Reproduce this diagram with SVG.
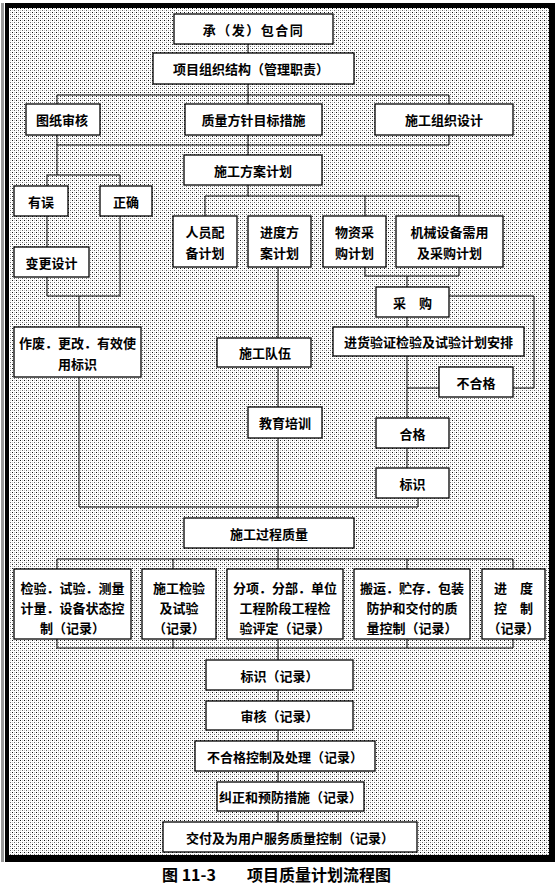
<svg xmlns="http://www.w3.org/2000/svg" width="555" height="894" viewBox="0 0 555 894">
<defs>
<pattern id="dots" width="4" height="4" patternUnits="userSpaceOnUse">
<rect width="4" height="4" fill="#fff"/>
<rect x="0" y="0" width="1" height="1" fill="#111"/>
<rect x="2" y="2" width="1" height="1" fill="#666"/>
<rect x="2" y="0" width="1" height="1" fill="#c8c8c8"/>
<rect x="0" y="2" width="1" height="1" fill="#c8c8c8"/>
</pattern>
</defs>
<style>
.box{fill:#fff;stroke:#000;stroke-width:1.3}
.t{font-family:"Noto Sans CJK SC","Noto Sans CJK JP",sans-serif;font-size:13px;font-weight:bold;fill:#000;text-anchor:middle;dominant-baseline:central}
.c{fill:none;stroke:#000;stroke-width:1}
.cap{font-family:"Noto Sans CJK SC","Noto Sans CJK JP",sans-serif;font-size:16px;font-weight:bold;fill:#000}
</style>
<rect x="0" y="0" width="555" height="894" fill="#fff"/>
<rect x="1" y="3" width="3" height="859" fill="#999"/>
<rect x="5" y="3" width="550" height="859" fill="#000"/>
<rect x="9" y="8" width="540" height="847" fill="url(#dots)"/>

<g id="connectors">
<path class="c" d="M248,44 V196"/>
<path class="c" d="M57,95 H449 V145 H57 Z"/>
<path class="c" d="M57,145 V175"/>
<path class="c" d="M47,175 H120 V296 H47 Z"/>
<path class="c" d="M79,296 V507 H418 V498"/>
<path class="c" d="M205,216 V196 H459 V276 H365 V196"/>
<path class="c" d="M407,276 V287 M407,317 V418 M407,448 V468"/>
<path class="c" d="M449,296 H534 V388 H513 M439,388 H407"/>
<path class="c" d="M278,267 V518"/>
<path class="c" d="M278,548 V822"/>
<path class="c" d="M57,559 H513 V648 H57 Z"/>
<path class="c" d="M173,559 V648 M407,559 V648"/>
</g>

<g id="n1"><rect class="box" x="174" y="14" width="159" height="30"/><text class="t" x="253.5" y="29" letter-spacing="1.5">承（发）包合同</text></g>
<g id="n2"><rect class="box" x="153" y="53" width="201" height="31"/><text class="t" x="251" y="68.5">项目组织结构（管理职责）</text></g>
<g id="n3"><rect class="box" x="26" y="104" width="74" height="31"/><text class="t" x="62" y="119.5">图纸审核</text></g>
<g id="n4"><rect class="box" x="185" y="104" width="137" height="31"/><text class="t" x="253.5" y="119.5">质量方针目标措施</text></g>
<g id="n5"><rect class="box" x="375" y="104" width="138" height="31"/><text class="t" x="444" y="119.5">施工组织设计</text></g>
<g id="n6"><rect class="box" x="184" y="155" width="138" height="30"/><text class="t" x="253" y="170">施工方案计划</text></g>
<g id="n7"><rect class="box" x="14" y="186" width="54" height="30"/><text class="t" x="41" y="201">有误</text></g>
<g id="n8"><rect class="box" x="100" y="186" width="52" height="30"/><text class="t" x="126" y="201">正确</text></g>
<g id="n9"><rect class="box" x="14" y="247" width="75" height="30"/><text class="t" x="51.5" y="262">变更设计</text></g>
<g id="n10"><rect class="box" x="173" y="216" width="64" height="51"/><text class="t" x="205" y="231">人员配</text><text class="t" x="205" y="252">备计划</text></g>
<g id="n11"><rect class="box" x="248" y="216" width="63" height="51"/><text class="t" x="279.5" y="231">进度方</text><text class="t" x="279.5" y="252">案计划</text></g>
<g id="n12"><rect class="box" x="323" y="216" width="63" height="51"/><text class="t" x="354.5" y="231">物资采</text><text class="t" x="354.5" y="252">购计划</text></g>
<g id="n13"><rect class="box" x="396" y="216" width="107" height="51"/><text class="t" x="449.5" y="231">机械设备需用</text><text class="t" x="449.5" y="252">及采购计划</text></g>
<g id="n14"><rect class="box" x="14" y="327" width="127" height="50"/><text class="t" x="77.5" y="342">作废．更改．有效使</text><text class="t" x="77.5" y="363">用标识</text></g>
<g id="n15"><rect class="box" x="376" y="287" width="73" height="30"/><text class="t" x="412.5" y="302">采　购</text></g>
<g id="n16"><rect class="box" x="333" y="327" width="191" height="29"/><text class="t" x="428.5" y="341.5">进货验证检验及试验计划安排</text></g>
<g id="n17"><rect class="box" x="217" y="338" width="94" height="29"/><text class="t" x="265" y="352.5">施工队伍</text></g>
<g id="n18"><rect class="box" x="439" y="367" width="74" height="30"/><text class="t" x="476" y="382">不合格</text></g>
<g id="n19"><rect class="box" x="248" y="407" width="74" height="31"/><text class="t" x="285" y="422.5">教育培训</text></g>
<g id="n20"><rect class="box" x="376" y="418" width="73" height="30"/><text class="t" x="412.5" y="433">合格</text></g>
<g id="n21"><rect class="box" x="376" y="468" width="73" height="30"/><text class="t" x="412.5" y="483">标识</text></g>
<g id="n22"><rect class="box" x="184" y="518" width="170" height="30"/><text class="t" x="269" y="533">施工过程质量</text></g>
<g id="n23"><rect class="box" x="14" y="569" width="117" height="70"/><text class="t" x="72.5" y="587">检验．试验．测量</text><text class="t" x="72.5" y="607">计量．设备状态控</text><text class="t" x="72.5" y="627">制（记录）</text></g>
<g id="n24"><rect class="box" x="142" y="569" width="74" height="70"/><text class="t" x="179" y="587">施工检验</text><text class="t" x="179" y="607">及试验</text><text class="t" x="179" y="627">（记录）</text></g>
<g id="n25"><rect class="box" x="227" y="569" width="116" height="70"/><text class="t" x="285" y="587">分项．分部．单位</text><text class="t" x="285" y="607">工程阶段工程检</text><text class="t" x="285" y="627">验评定（记录）</text></g>
<g id="n26"><rect class="box" x="354" y="569" width="116" height="70"/><text class="t" x="412" y="587">搬运．贮存．包装</text><text class="t" x="412" y="607">防护和交付的质</text><text class="t" x="412" y="627">量控制（记录）</text></g>
<g id="n27"><rect class="box" x="482" y="569" width="63" height="70"/><text class="t" x="513.5" y="587">进　度</text><text class="t" x="513.5" y="607">控　制</text><text class="t" x="513.5" y="627">（记录）</text></g>
<g id="n28"><rect class="box" x="206" y="660" width="147" height="30"/><text class="t" x="279.5" y="675">标识（记录）</text></g>
<g id="n29"><rect class="box" x="206" y="701" width="147" height="29"/><text class="t" x="279.5" y="715.5">审核（记录）</text></g>
<g id="n30"><rect class="box" x="195" y="741" width="180" height="30"/><text class="t" x="285" y="756">不合格控制及处理（记录）</text></g>
<g id="n31"><rect class="box" x="217" y="782" width="147" height="29"/><text class="t" x="290.5" y="796.5">纠正和预防措施（记录）</text></g>
<g id="n32"><rect class="box" x="163" y="822" width="254" height="30"/><text class="t" x="290" y="837">交付及为用户服务质量控制（记录）</text></g>

<g id="caption"><text class="cap" x="162" y="881">图 11-3</text><text class="cap" x="247" y="881">项目质量计划流程图</text></g>
</svg>
